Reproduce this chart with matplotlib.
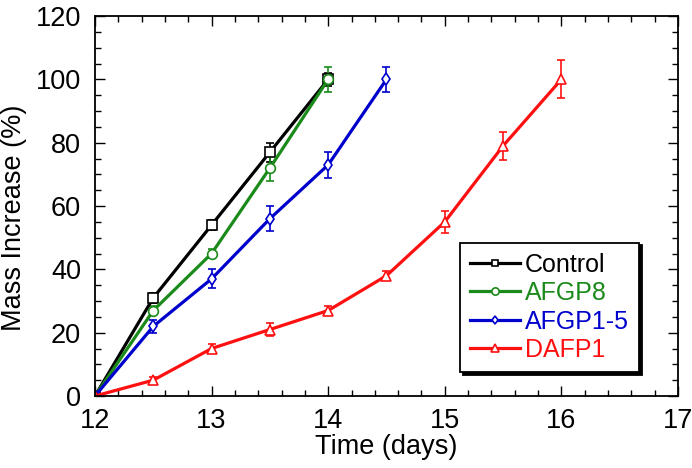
import numpy as np
from matplotlib import pyplot as plt
from matplotlib.lines import Line2D
from matplotlib.ticker import MultipleLocator

plt.rcParams['font.family'] = ['Liberation Sans', 'DejaVu Sans']

# data
ctrl_t = [12, 12.5, 13, 13.5, 14]
ctrl_y = [0, 31, 54, 77, 100]
ctrl_e = [0.5, 1.5, 1.5, 3, 2]

afgp8_t = [12, 12.5, 13, 13.5, 14]
afgp8_y = [0, 27, 45, 72, 100]
afgp8_e = [0.5, 1.5, 1.5, 4, 4]

afgp15_t = [12, 12.5, 13, 13.5, 14, 14.5]
afgp15_y = [0, 22, 37, 56, 73, 100]
afgp15_e = [0.5, 2, 3, 4, 4, 4]

dafp_t = [12, 12.5, 13, 13.5, 14, 14.5, 15, 15.5, 16]
dafp_y = [0, 5, 15, 21, 27, 38, 55, 79, 100]
dafp_e = [0.5, 1, 1.5, 2, 1.5, 1.5, 3.5, 4.5, 6]

fig = plt.figure(figsize=(6.92, 4.68), dpi=100)
ax = fig.add_axes([95/692, 1-396/468, 583/692, 380/468])

series = [
    (ctrl_t, ctrl_y, ctrl_e, "Control", "black", "s", 6.5),
    (afgp8_t, afgp8_y, afgp8_e, "AFGP8", "#1a8a1a", "o", 7),
    (afgp15_t, afgp15_y, afgp15_e, "AFGP1-5", "#0000cc", "d", 6),
    (dafp_t, dafp_y, dafp_e, "DAFP1", "#ff1010", "^", 7),
]
handles = []
for t, y, e, name, c, m, ms in series:
    ax.errorbar(t, y, yerr=e, color=c, lw=2.3, marker=m, ms=ms, mfc="white",
                mec=c, mew=1.2, capsize=3, elinewidth=1.2, capthick=1.2)
    handles.append(Line2D([], [], color=c, lw=2.3, marker=m, ms=ms * 0.75,
                          mfc="white", mec=c, mew=1.2, label=name))

ax.set_xlim(12, 17)
ax.set_ylim(0, 120)
ax.xaxis.set_major_locator(MultipleLocator(1))
ax.xaxis.set_minor_locator(MultipleLocator(0.2))
ax.yaxis.set_major_locator(MultipleLocator(20))
ax.yaxis.set_minor_locator(MultipleLocator(5))
ax.tick_params(which="both", direction="in", top=True, right=True, labelsize=19.5)
ax.tick_params(axis="x", which="major", pad=9)
ax.tick_params(axis="y", which="major", pad=10)
ax.tick_params(which="major", length=7, width=1)
ax.tick_params(which="minor", length=4, width=1)
for s in ax.spines.values():
    s.set_linewidth(1.3)

ax.set_xlabel("Time (days)", fontsize=19.5, labelpad=0)
ax.set_ylabel("Mass Increase (%)", fontsize=19.5)
ax.yaxis.set_label_coords(-0.117, 0.47)

leg = ax.legend(handles=handles, loc="lower right", bbox_to_anchor=(0.933, 0.063),
                fontsize=18, frameon=True, fancybox=False,
                shadow={"color": "black", "alpha": 1},
                handlelength=2.0, handletextpad=0.2, borderpad=0.4,
                labelspacing=0.18, borderaxespad=0)
leg.get_frame().set_edgecolor("black")
leg.get_frame().set_linewidth(1.3)
for txt, h in zip(leg.get_texts(), handles):
    txt.set_color(h.get_color())

plt.savefig("out.png", dpi=100)
